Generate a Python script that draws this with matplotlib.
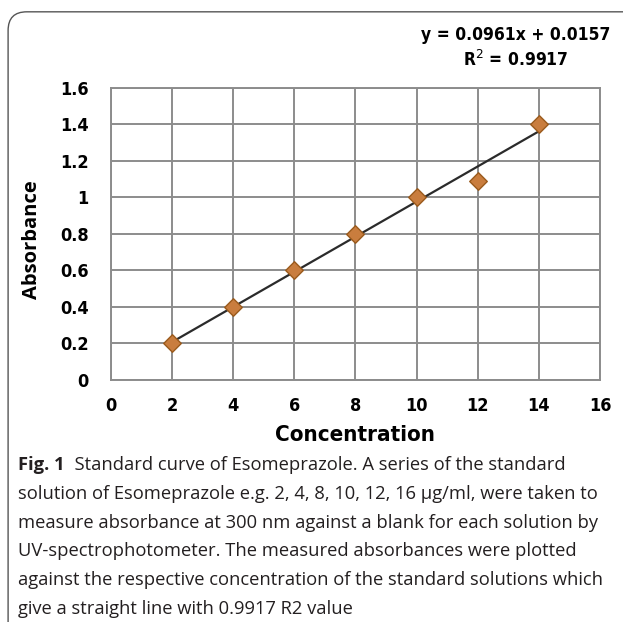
import matplotlib
matplotlib.use("Agg")
import numpy as np
import matplotlib.pyplot as plt
from matplotlib.patches import FancyBboxPatch

# data
conc = [2, 4, 6, 8, 10, 12, 14]
absorb = [0.2, 0.4, 0.6, 0.8, 1.0, 1.09, 1.4]
slope = 0.0961
intercept = 0.0157
eq_text = "y = 0.0961x + 0.0157"
r2_text = "R$^2$ = 0.9917"
xticks = [0, 2, 4, 6, 8, 10, 12, 14, 16]
yticks = [0, 0.2, 0.4, 0.6, 0.8, 1, 1.2, 1.4, 1.6]
ytick_labels = ["0", "0.2", "0.4", "0.6", "0.8", "1", "1.2", "1.4", "1.6"]

caption_bold = "Fig. 1"
caption_first = "  Standard curve of Esomeprazole. A series of the standard"
caption_rest = [
    "solution of Esomeprazole e.g. 2, 4, 8, 10, 12, 16 \u00b5g/ml, were taken to",
    "measure absorbance at 300 nm against a blank for each solution by",
    "UV-spectrophotometer. The measured absorbances were plotted",
    "against the respective concentration of the standard solutions which",
    "give a straight line with 0.9917 R2 value",
]

cond = dict(family="DejaVu Sans", fontstretch="condensed", fontweight="bold")
cap_font = ["Open Sans", "DejaVu Sans"]
txt_col = "#231f20"

fig = plt.figure(figsize=(6.23, 6.22), dpi=100)
ax = fig.add_axes([0.178, 0.389, 0.785, 0.470])

xs = np.array([conc[0], conc[-1]])
ax.plot(xs, slope * xs + intercept, color="#2b2b2b", lw=1.6, zorder=3)
ax.scatter(conc, absorb, marker="D", s=80, color="#c97d3e",
           edgecolors="#9a5a1c", linewidths=1.0, zorder=4)

ax.set_xlim(0, 16)
ax.set_ylim(0, 1.6)
ax.set_xticks(xticks)
ax.set_yticks(yticks)
ax.set_yticklabels(ytick_labels)
ax.grid(True, color="#8c8c8c", lw=1.4)
ax.set_axisbelow(True)
for s in ax.spines.values():
    s.set_color("#8c8c8c")
    s.set_linewidth(1.4)
ax.tick_params(length=0, labelsize=13, colors="black")
ax.tick_params(axis="x", pad=12)
ax.tick_params(axis="y", pad=16)
for lab in ax.get_xticklabels() + ax.get_yticklabels():
    lab.set_family("DejaVu Sans")
    lab.set_fontstretch("condensed")
    lab.set_fontweight("bold")

ax.set_xlabel("Concentration", fontsize=16, **cond)
ax.xaxis.set_label_coords(0.5, -0.155)
ax.set_ylabel("Absorbance", family=cap_font, fontsize=14.5, fontweight="bold")
ax.yaxis.set_label_coords(-0.141, 0.48)

fig.text(0.828, 0.944, eq_text, fontsize=12.5, ha="center", va="center", **cond)
fig.text(0.828, 0.903, r2_text, fontsize=12.5, ha="center", va="center", **cond)

# rounded frame, cut off at right and bottom
box = FancyBboxPatch((0.013, -0.05), 1.2, 1.031, boxstyle="round,pad=0,rounding_size=0.03",
                     transform=fig.transFigure, fill=False, edgecolor="#555555", lw=1.0)
fig.patches.append(box)

# caption
x0 = 0.029
y0 = 1 - 465 / 622
t = fig.text(x0, y0, caption_bold, family=cap_font, fontsize=13.2, fontweight="bold",
             color=txt_col, va="center")
fig.canvas.draw()
bb = t.get_window_extent(fig.canvas.get_renderer())
fig.text(bb.x1 / fig.bbox.width, y0, caption_first, family=cap_font, fontsize=13.2,
         color=txt_col, va="center")
for i, line in enumerate(caption_rest):
    fig.text(x0, y0 - (i + 1) * 28.8 / 622, line, family=cap_font, fontsize=13.2,
             color=txt_col, va="center")

fig.savefig("out.png", dpi=100)
